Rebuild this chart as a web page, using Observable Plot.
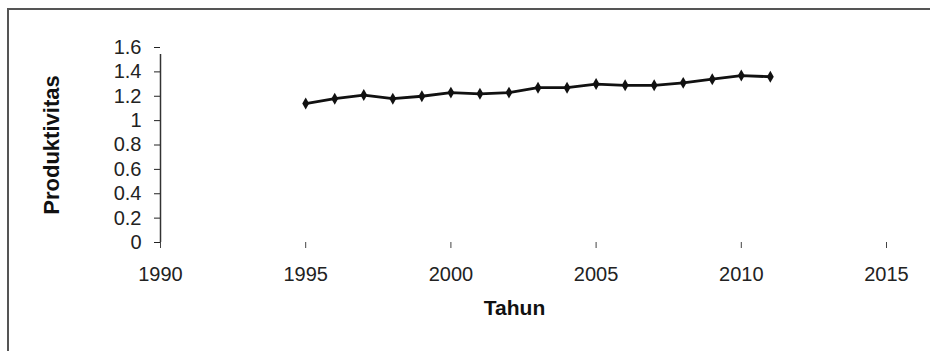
<!DOCTYPE html>
<html>
<head>
<meta charset="utf-8">
<script src="https://cdn.jsdelivr.net/npm/d3@7"></script>
<script src="https://cdn.jsdelivr.net/npm/@observablehq/plot@0.6"></script>
<style>
  html, body { margin: 0; padding: 0; background: #fff; overflow: hidden; width: 930px; height: 351px; }
  #border { position: absolute; left: 7px; top: 8px; width: 1000px; height: 500px; border: 2px solid #555; box-sizing: border-box; }
  #chart { position: absolute; left: 0; top: 0; }
</style>
</head>
<body>
<div id="border"></div>
<div id="chart"></div>
<script>
const years = [1995, 1996, 1997, 1998, 1999, 2000, 2001, 2002, 2003, 2004, 2005, 2006, 2007, 2008, 2009, 2010, 2011];
const produktivitas = [1.14, 1.18, 1.21, 1.18, 1.20, 1.23, 1.22, 1.23, 1.27, 1.27, 1.30, 1.29, 1.29, 1.31, 1.34, 1.37, 1.36];
const xTicks = [1990, 1995, 2000, 2005, 2010, 2015];
const yTicks = [0, 0.2, 0.4, 0.6, 0.8, 1, 1.2, 1.4, 1.6];
const yLabel = "Produktivitas";
const xLabel = "Tahun";

const data = years.map((y, i) => ({year: y, value: produktivitas[i]}));
const font = "'Liberation Sans', Arial, Helvetica, sans-serif";

const plot = Plot.plot({
  width: 930,
  height: 351,
  marginLeft: 160,
  marginRight: 44,
  marginTop: 47,
  marginBottom: 109,
  style: {fontFamily: font, fontSize: "20px", color: "#222", background: "transparent"},
  x: {domain: [xTicks[0], xTicks[xTicks.length - 1]]},
  y: {domain: [yTicks[0], yTicks[yTicks.length - 1]]},
  marks: [
    Plot.axisY({ticks: yTicks, tickSize: 6, tickPadding: 13, tickFormat: d => String(+d.toFixed(1)), label: null, fontSize: 20}),
    Plot.axisX({ticks: xTicks, tickSize: 6, tickPadding: 18, tickFormat: d => String(d), label: null, fontSize: 20, stroke: "#444"}),
    Plot.ruleX([xTicks[0]], {y1: yTicks[0], y2: yTicks[yTicks.length - 1], stroke: "#333", strokeWidth: 1.5, insetBottom: -7}),
    Plot.line(data, {x: "year", y: "value", stroke: "#111", strokeWidth: 2.8}),
    Plot.dot(data, {x: "year", y: "value", symbol: "diamond", r: 3.6, fill: "#111", stroke: "none"}),
    Plot.text([yLabel], {text: d => d, frameAnchor: "left", textAnchor: "middle", lineAnchor: "middle", dx: -109, rotate: -90, fontSize: 22, fontWeight: "bold", fill: "#111"}),
    Plot.text([xLabel], {text: d => d, frameAnchor: "bottom", textAnchor: "middle", lineAnchor: "middle", dx: -9, dy: 66, fontSize: 21, fontWeight: "bold", fill: "#111"})
  ]
});
document.getElementById("chart").appendChild(plot);
</script>
</body>
</html>
